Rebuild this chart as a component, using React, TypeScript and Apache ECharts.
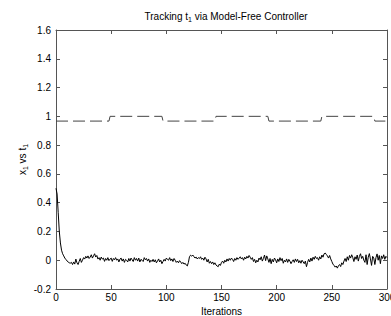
import React, { useEffect, useRef } from "react";
import * as echarts from "echarts";

const xTicks = [0, 50, 100, 150, 200, 250, 300];
const yTicks = [-0.2, 0, 0.2, 0.4, 0.6, 0.8, 1, 1.2, 1.4, 1.6];

// reference trajectory t1 (dashed)
const refIter = [0, 48, 49, 96, 97, 144, 145, 192, 193, 240, 241, 288, 289, 300];
const refValue = [0.967, 0.967, 1.0, 1.0, 0.967, 0.967, 1.0, 1.0, 0.967, 0.967, 1.0, 1.0, 0.967, 0.967];

// x1 response (solid), one value per iteration 0..300
const x1Value = [
  0.5, 0.46, 0.33, 0.2, 0.12, 0.07, 0.045, 0.03, 0.015, 0.005, -0.005, -0.012, -0.018, -0.02, -0.015,
  -0.03, -0.012, -0.027, 0.008, -0.018, -0.03, -0.008, 0.012, -0.015, 0.0, 0.018, 0.008, 0.027, 0.015, 0.03,
  0.012, 0.022, 0.038, 0.015, 0.03, 0.045, 0.022, 0.033, 0.008, 0.018, 0.0, 0.022, 0.008, 0.015, -0.008, 0.012, 0.0, 0.018, -0.003, 0.008,
  0.015, -0.008, 0.012, 0.003, 0.018, 0.0, 0.009, -0.012, 0.008, 0.015, -0.006, 0.009, -0.015, 0.006, 0.0, -0.012, 0.012, -0.006, 0.015, 0.003,
  -0.009, 0.018, 0.0, 0.012, -0.006, 0.015, -0.012, 0.006, 0.0, -0.009, 0.018, 0.003, 0.012, -0.006, 0.009, -0.015, 0.0, -0.009, 0.006, -0.012,
  0.003, -0.018, -0.006, 0.009, -0.012, 0.0, -0.024, -0.009, 0.006, -0.006, 0.015, 0.006, 0.0, 0.018, -0.003, 0.009, -0.009, 0.012, 0.0, -0.015,
  -0.006, -0.018, -0.003, -0.012, -0.024, -0.015, -0.027, -0.021, -0.033, -0.04, -0.015, 0.025, 0.035, 0.028, 0.036, 0.025, 0.015, 0.022, 0.009, 0.018,
  0.012, 0.024, 0.006, 0.015, 0.0, 0.021, 0.009, -0.012, 0.006, -0.021, -0.009, -0.024, -0.012, -0.03, -0.018, -0.033, -0.04, -0.045, -0.027, -0.036,
  -0.015, -0.006, -0.021, 0.0, -0.012, 0.009, -0.006, 0.012, 0.0, 0.015, 0.006, -0.009, 0.012, 0.0, 0.018, 0.006, 0.015, 0.024, 0.009, 0.018,
  0.0, 0.021, 0.009, 0.027, 0.015, 0.033, 0.021, 0.006, 0.018, -0.009, 0.006, -0.018, 0.0, -0.012, 0.015, 0.003, 0.024, -0.006, 0.012, 0.036,
  -0.003, 0.03, 0.009, -0.015, 0.012, -0.024, 0.006, -0.012, 0.015, 0.003, -0.018, 0.009, -0.009, 0.018, -0.003, 0.012, -0.021, 0.0, -0.012, 0.009,
  -0.015, 0.006, -0.006, -0.024, -0.009, 0.003, -0.015, 0.009, -0.009, 0.006, -0.018, -0.003, -0.021, 0.0, -0.012, -0.024, -0.006, -0.045, -0.015, 0.006,
  -0.012, 0.015, -0.006, 0.021, 0.006, 0.027, 0.012, 0.018, 0.0, 0.024, 0.009, 0.036, 0.021, 0.045, 0.05, 0.04, 0.03, 0.015, 0.033, 0.009,
  -0.009, -0.027, -0.036, -0.048, -0.04, -0.055, -0.038, -0.03, -0.044, -0.018, -0.03, -0.006, 0.012, -0.009, 0.024, 0.0, 0.033, 0.015, 0.038, 0.018,
  -0.009, 0.024, 0.006, 0.036, -0.006, 0.027, 0.045, 0.012, 0.027, 0.0, -0.015, 0.038, -0.03, 0.021, 0.046, 0.009, -0.036, 0.027, 0.015, -0.03,
  0.018, 0.044, 0.0, 0.033, -0.024, 0.03, 0.012, 0.038, 0.006, 0.027, 0.018,
];

const FONT = "Liberation Sans, Arial, sans-serif";
const AXIS_COLOR = "#555";

export default function App() {
  const ref = useRef<HTMLDivElement>(null);
  useEffect(() => {
    document.body.style.margin = "0";
    if (!ref.current) return;
    const chart = echarts.init(ref.current, undefined, { renderer: "svg" });
    const tickBase = {
      show: true,
      inside: true,
      length: 4,
      lineStyle: { color: AXIS_COLOR, width: 1 },
    };
    const lineBase = { show: true, onZero: false, lineStyle: { color: AXIS_COLOR, width: 1 } };
    chart.setOption({
      animation: false,
      backgroundColor: "#fff",
      title: {
        text: "{a|Tracking t}{s|1}{a| via Model-Free Controller}",
        left: 221,
        top: 5,
        textAlign: "center",
        textStyle: {
          fontWeight: "normal",
          rich: {
            a: { fontFamily: FONT, fontSize: 10, fontWeight: "normal", color: "#000" },
            s: { fontFamily: FONT, fontSize: 7, fontWeight: "normal", color: "#000", padding: [6, 0, 0, 0] },
          },
        },
      },
      grid: {
        left: 56,
        right: 4,
        top: 30,
        bottom: 27,
        containLabel: false,
        outerBoundsMode: "none",
      },
      xAxis: [
        {
          type: "value",
          min: 0,
          max: 300,
          interval: 50,
          position: "bottom",
          name: "Iterations",
          nameLocation: "middle",
          nameGap: 17,
          nameMoveOverlap: false,
          nameTextStyle: { fontFamily: FONT, fontSize: 10, color: "#000" },
          axisLine: lineBase,
          axisTick: tickBase,
          axisLabel: { fontFamily: FONT, fontSize: 10, color: "#000", margin: 3 },
          splitLine: { show: false },
        },
        {
          type: "value",
          min: 0,
          max: 300,
          interval: 50,
          position: "top",
          axisLine: lineBase,
          axisTick: tickBase,
          axisLabel: { show: false },
          splitLine: { show: false },
        },
      ],
      yAxis: [
        {
          type: "value",
          min: -0.2,
          max: 1.6,
          interval: 0.2,
          position: "left",
          name: "{a|x}{s|1}{a| vs t}{s|1}",
          nameLocation: "middle",
          nameGap: 27,
          nameMoveOverlap: false,
          nameRotate: 90,
          nameTextStyle: {
            rich: {
              a: { fontFamily: FONT, fontSize: 10, color: "#000" },
              s: { fontFamily: FONT, fontSize: 7, color: "#000", padding: [6, 0, 0, 0] },
            },
          },
          axisLine: lineBase,
          axisTick: tickBase,
          axisLabel: {
            fontFamily: FONT,
            fontSize: 10,
            color: "#000",
            margin: 5,
            formatter: (v: number) => String(Math.round(v * 10) / 10),
          },
          splitLine: { show: false },
        },
        {
          type: "value",
          min: -0.2,
          max: 1.6,
          interval: 0.2,
          position: "right",
          axisLine: lineBase,
          axisTick: tickBase,
          axisLabel: { show: false },
          splitLine: { show: false },
        },
      ],
      series: [
        {
          type: "line",
          data: refIter.map((x, i) => [x, refValue[i]]),
          showSymbol: false,
          symbol: "none",
          lineStyle: { color: "#444", width: 1, type: [12, 5] },
        },
        {
          type: "line",
          data: x1Value.map((v, i) => [i, v]),
          showSymbol: false,
          symbol: "none",
          lineStyle: { color: "#000", width: 1 },
        },
      ],
    });
    return () => chart.dispose();
  }, []);
  return (
    <div
      ref={ref}
      style={{ position: "absolute", left: 0, top: 0, width: 391, height: 316 }}
    />
  );
}
